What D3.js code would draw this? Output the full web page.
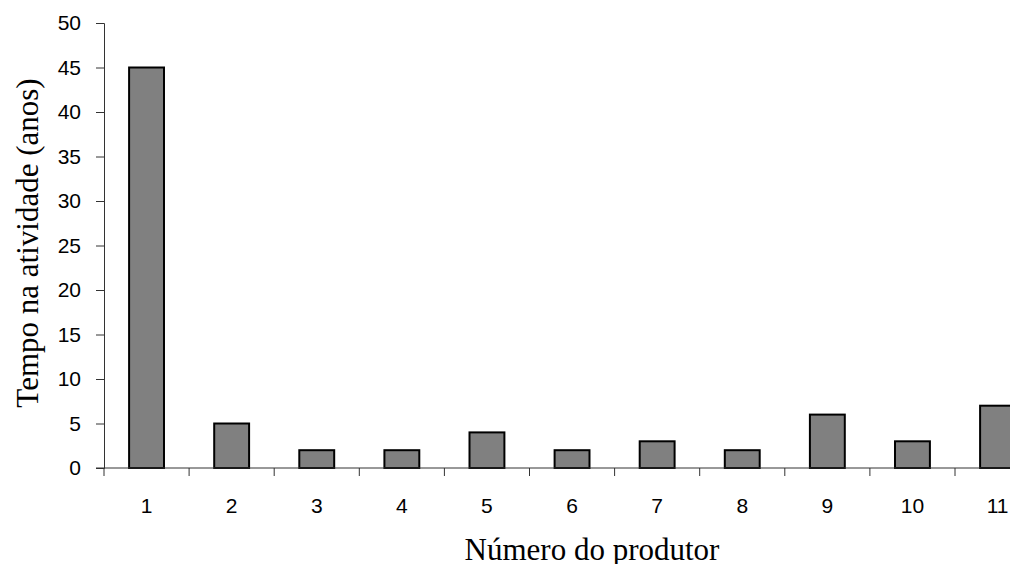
<!DOCTYPE html>
<html>
<head>
<meta charset="utf-8">
<script src="https://cdn.jsdelivr.net/npm/d3@7"></script>
<style>
  body { margin: 0; background: #fff; }
  svg { display: block; }
  .tick text { font-family: "Liberation Sans", Arial, sans-serif; font-size: 21px; fill: #000; }
  .title { font-family: "Liberation Serif", "Times New Roman", serif; font-size: 31px; fill: #000; }
</style>
</head>
<body>
<svg width="1010" height="564"></svg>
<script>
var producers = ["1","2","3","4","5","6","7","8","9","10","11"];
var years = [45, 5, 2, 2, 4, 2, 3, 2, 6, 3, 7];
var yTicks = [0,5,10,15,20,25,30,35,40,45,50];

var svg = d3.select("svg");
var plotLeft = 104, plotTop = 23, plotBottom = 468;
var bandW = 85.1;

var x = d3.scaleBand()
  .domain(producers)
  .range([plotLeft, plotLeft + bandW * producers.length])
  .paddingInner(0.59)
  .paddingOuter(0.295);

var y = d3.scaleLinear().domain([0, 50]).range([plotBottom, plotTop]);

// y axis
var yAxis = svg.append("g")
  .attr("transform", "translate(" + plotLeft + ",0)")
  .call(d3.axisLeft(y).tickValues(yTicks).tickSize(8).tickPadding(15));
yAxis.select(".domain").attr("stroke", "#333");
yAxis.selectAll(".tick line").attr("stroke", "#333");

// bars
svg.selectAll("rect.bar").data(years).enter().append("rect")
  .attr("class", "bar")
  .attr("x", function(d,i){ return x(producers[i]); })
  .attr("y", function(d){ return y(d); })
  .attr("width", x.bandwidth())
  .attr("height", function(d){ return plotBottom - y(d); })
  .attr("fill", "#808080")
  .attr("stroke", "#000")
  .attr("stroke-width", 2);

// x axis line + ticks between bands
svg.append("line")
  .attr("x1", plotLeft - 8).attr("x2", 1010)
  .attr("y1", plotBottom).attr("y2", plotBottom)
  .attr("stroke", "#333");
var bounds = d3.range(producers.length + 1).map(function(i){ return plotLeft + i * bandW; });
svg.selectAll("line.xt").data(bounds).enter().append("line")
  .attr("class", "xt")
  .attr("x1", function(d){ return d; }).attr("x2", function(d){ return d; })
  .attr("y1", plotBottom).attr("y2", plotBottom + 8)
  .attr("stroke", "#333");

var xl = svg.append("g").attr("class", "tick");
xl.selectAll("text").data(producers).enter().append("text")
  .attr("x", function(d){ return x(d) + x.bandwidth() / 2; })
  .attr("y", 513)
  .attr("text-anchor", "middle")
  .text(function(d){ return d; });

// titles
svg.append("text").attr("class", "title")
  .attr("x", 592).attr("y", 560)
  .attr("text-anchor", "middle")
  .text("Número do produtor");

svg.append("text").attr("class", "title")
  .attr("transform", "translate(38,243) rotate(-90)")
  .attr("text-anchor", "middle")
  .text("Tempo na atividade (anos)");
</script>
</body>
</html>
